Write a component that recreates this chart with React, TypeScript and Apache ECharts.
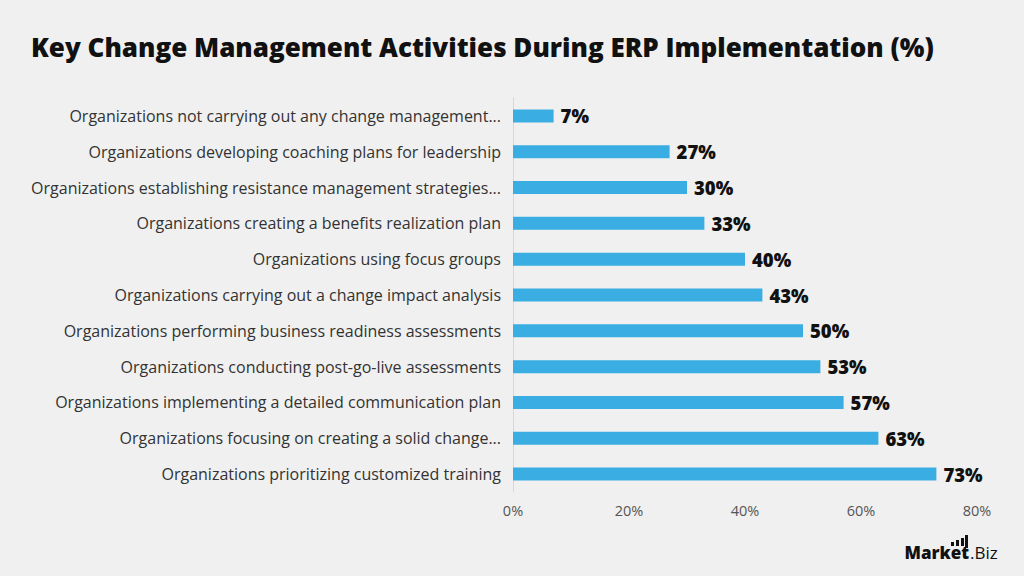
import React, { useEffect, useRef } from "react";
import * as echarts from "echarts";

const categories = [
  "Organizations not carrying out any change management...",
  "Organizations developing coaching plans for leadership",
  "Organizations establishing resistance management strategies...",
  "Organizations creating a benefits realization plan",
  "Organizations using focus groups",
  "Organizations carrying out a change impact analysis",
  "Organizations performing business readiness assessments",
  "Organizations conducting post-go-live assessments",
  "Organizations implementing a detailed communication plan",
  "Organizations focusing on creating a solid change...",
  "Organizations prioritizing customized training",
];
const values = [7, 27, 30, 33, 40, 43, 50, 53, 57, 63, 73];
const xTicks = [0, 20, 40, 60, 80];

const title = "Key Change Management Activities During ERP Implementation (%)";

export default function App() {
  const ref = useRef<HTMLDivElement>(null);
  useEffect(() => {
    if (!ref.current) return;
    document.body.style.margin = "0";
    const chart = echarts.init(ref.current, null, { renderer: "svg" });
    const font = "'Open Sans', 'Noto Sans', sans-serif";
    chart.setOption({
      animation: false,
      backgroundColor: "#f0f0f0",
      title: {
        text: title,
        left: 26,
        top: 29,
        textStyle: {
          fontFamily: font,
          fontWeight: 800,
          fontSize: 26,
          color: "#111",
        },
      },
      grid: { left: 513, right: 47, top: 98, bottom: 84 },
      xAxis: {
        type: "value",
        min: xTicks[0],
        max: xTicks[xTicks.length - 1],
        interval: 20,
        axisLine: { show: false },
        axisTick: { show: false },
        splitLine: { show: false },
        axisLabel: {
          formatter: (v: number) => v + "%",
          color: "#555",
          fontSize: 14.5,
          fontFamily: font,
          margin: 11,
        },
      },
      yAxis: {
        type: "category",
        data: categories,
        inverse: true,
        axisLine: { show: true, lineStyle: { color: "#d8d8d8", width: 1 } },
        axisTick: { show: false },
        axisLabel: {
          color: "#333",
          fontSize: 16,
          fontFamily: font,
          margin: 12,
        },
      },
      series: [
        {
          type: "bar",
          data: values,
          barWidth: 13,
          itemStyle: { color: "#3aaee2" },
          label: {
            show: true,
            position: "right",
            distance: 7,
            formatter: "{c}%",
            color: "#111",
            fontSize: 18.5,
            fontWeight: 800,
            fontFamily: font,
          },
        },
      ],
      graphic: [
        { type: "rect", shape: { x: 951, y: 542, width: 3, height: 4 }, style: { fill: "#111" } },
        { type: "rect", shape: { x: 956, y: 540, width: 3, height: 6 }, style: { fill: "#111" } },
        { type: "rect", shape: { x: 961, y: 538, width: 3, height: 8 }, style: { fill: "#111" } },
        { type: "rect", shape: { x: 965, y: 535, width: 3, height: 13 }, style: { fill: "#111" } },
        {
          type: "text",
          x: 969,
          y: 552,
          style: {
            text: "Market",
            fill: "#111",
            align: "right",
            verticalAlign: "middle",
            font: "800 17px " + font,
          },
        },
        {
          type: "text",
          x: 970,
          y: 552,
          style: {
            text: ".Biz",
            fill: "#111",
            align: "left",
            verticalAlign: "middle",
            font: "500 17px " + font,
          },
        },
      ],
    });
    return () => chart.dispose();
  }, []);
  return <div ref={ref} style={{ width: 1024, height: 576 }} />;
}
